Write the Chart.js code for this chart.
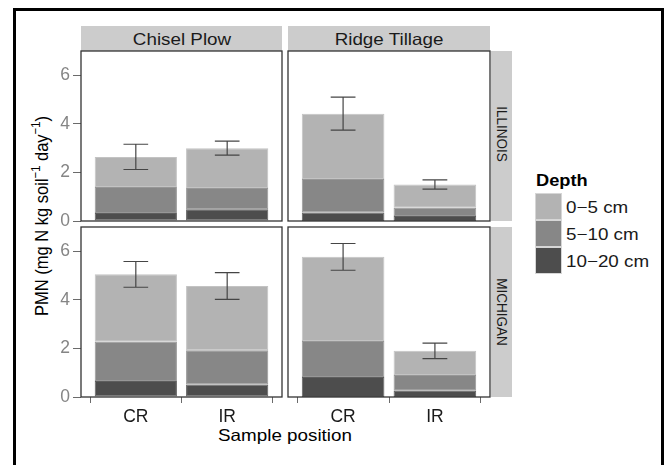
<!DOCTYPE html>
<html>
<head>
<meta charset="utf-8">
<script src="https://cdn.jsdelivr.net/npm/chart.js@4.4.0/dist/chart.umd.min.js"></script>
<style>
  body { margin: 0; background: #fff; font-family: 'Liberation Sans', Arial, sans-serif; }
  #wrap { position: relative; width: 670px; height: 465px; overflow: hidden; }
  .frame { position: absolute; left: 13px; top: 8px; width: 645px; height: 470px; border: 3px solid #000; border-bottom: none; }
  .strip { position: absolute; background: #cccccc; }
  .txt { position: absolute; transform: translate(-50%, -50%) scaleX(1.14); white-space: nowrap; font-size: 16.5px; line-height: 1; color: #1a1a1a; }
  .rot { position: absolute; transform: translate(-50%, -50%) rotate(90deg) scaleY(1.14); white-space: nowrap; font-size: 13.5px; line-height: 1; color: #1a1a1a; }
  .ytitle { position: absolute; transform: translate(-50%, -50%) rotate(-90deg) scaleY(1.14); white-space: nowrap; font-size: 16.5px; line-height: 1; color: #000; }
  .ytitle sup { font-size: 0.68em; line-height: 0; }
  .left { position: absolute; transform: translateY(-50%) scaleX(1.14); transform-origin: left center; white-space: nowrap; font-size: 16.5px; line-height: 1; color: #1a1a1a; }
  .key { position: absolute; box-sizing: border-box; width: 27px; height: 27px; border: 1px solid #d6d6d6; }
</style>
</head>
<body>
<div id="wrap">
  <div class="frame"></div>
  <div class="strip" style="left:81px;top:26px;width:201px;height:25px"></div>
  <div class="strip" style="left:288px;top:26px;width:202px;height:25px"></div>
  <div class="strip" style="left:491px;top:51px;width:21px;height:170px"></div>
  <div class="strip" style="left:491px;top:227px;width:21px;height:170px"></div>
  <div class="txt" style="left:181.5px;top:38.5px">Chisel Plow</div>
  <div class="txt" style="left:389px;top:38.5px">Ridge Tillage</div>
  <div class="rot" style="left:502px;top:134px">ILLINOIS</div>
  <div class="rot" style="left:502px;top:312px">MICHIGAN</div>
  <div class="ytitle" style="left:41px;top:216px">PMN (mg N kg soil<sup>−1</sup> day<sup>−1</sup>)</div>
  <div class="txt" style="left:285px;top:435px;color:#000">Sample position</div>
  <div class="left" style="left:536px;top:181px;font-weight:bold;font-size:16px;color:#000">Depth</div>
  <div id="legend"></div>
</div>
<script>
// sample positions on the x axis
const positions = ['CR', 'IR'];
const xSlots = [1, 2];
const yTicks = [0, 2, 4, 6];
// stacked bottom to top
const depths = ['10−20 cm', '5−10 cm', '0−5 cm'];
const fills = ['#4d4d4d', '#878787', '#b3b3b3'];
const seams = ['#5e5e5e', '#979797', '#c3c3c3'];

// Illinois, chisel plow
const ilChisel10to20 = [0.33, 0.48];
const ilChisel5to10 = [1.07, 0.88];
const ilChisel0to5 = [1.24, 1.64];
const ilChiselErr = [0.52, 0.29];

// Illinois, ridge tillage
const ilRidge10to20 = [0.35, 0.21];
const ilRidge5to10 = [1.38, 0.34];
const ilRidge0to5 = [2.69, 0.95];
const ilRidgeErr = [0.68, 0.19];

// Michigan, chisel plow
const miChisel10to20 = [0.66, 0.51];
const miChisel5to10 = [1.62, 1.41];
const miChisel0to5 = [2.77, 2.65];
const miChiselErr = [0.53, 0.55];

// Michigan, ridge tillage
const miRidge10to20 = [0.82, 0.26];
const miRidge5to10 = [1.49, 0.65];
const miRidge0to5 = [3.46, 0.99];
const miRidgeErr = [0.55, 0.32];

Chart.defaults.font.family = "'Liberation Sans', Arial, sans-serif";

function errorBars(totals, err) {
  return {
    id: 'errorBars',
    afterDatasetsDraw(chart) {
      const ctx = chart.ctx;
      const x = chart.scales.x, y = chart.scales.y;
      const bars = chart.getDatasetMeta(0).data;
      ctx.save();
      ctx.strokeStyle = '#454545';
      ctx.lineWidth = 1.2;
      totals.forEach((t, i) => {
        const cx = x.getPixelForValue(xSlots[i]);
        const half = bars[i].width * 0.15;
        const hi = y.getPixelForValue(t + err[i]);
        const lo = y.getPixelForValue(t - err[i]);
        ctx.beginPath();
        ctx.moveTo(cx - half, hi); ctx.lineTo(cx + half, hi);
        ctx.moveTo(cx, hi); ctx.lineTo(cx, lo);
        ctx.moveTo(cx - half, lo); ctx.lineTo(cx + half, lo);
        ctx.stroke();
      });
      ctx.restore();
    }
  };
}

const panelBox = {
  id: 'panelBox',
  afterDraw(chart) {
    const {ctx, chartArea: a} = chart;
    ctx.save();
    ctx.strokeStyle = '#333333';
    ctx.lineWidth = 1.3;
    ctx.strokeRect(a.left, a.top, a.right - a.left, a.bottom - a.top);
    ctx.restore();
  }
};

function panel(box, layers, err, showX, showY) {
  const PAD = 14, YW = 40, XH = 32;
  const padL = showY ? 0 : PAD;
  const axisW = showY ? YW : 0;
  const padB = showX ? 0 : PAD;
  const axisH = showX ? XH : 0;
  const w = padL + axisW + box.w + PAD;
  const h = PAD + box.h + axisH + padB;
  const cv = document.createElement('canvas');
  cv.width = w; cv.height = h;
  cv.style.cssText = 'position:absolute;left:' + (box.x - padL - axisW) + 'px;top:' + (box.y - PAD) + 'px;width:' + w + 'px;height:' + h + 'px';
  document.getElementById('wrap').appendChild(cv);

  const totals = layers[0].map((_, i) => layers.reduce((s, l) => s + l[i], 0));

  new Chart(cv, {
    type: 'bar',
    data: {
      datasets: layers.map((vals, k) => ({
        label: depths[k],
        data: vals.map((v, i) => ({x: xSlots[i], y: v})),
        backgroundColor: fills[k],
        borderColor: seams[k],
        borderWidth: 1,
        borderSkipped: false,
        stack: 'depth',
        barPercentage: 0.9,
        categoryPercentage: 1
      }))
    },
    options: {
      responsive: false,
      animation: false,
      layout: {padding: {left: padL, right: PAD, top: PAD, bottom: padB}},
      plugins: {legend: {display: false}, tooltip: {enabled: false}},
      scales: {
        x: {
          type: 'linear', min: 0.4, max: 2.6, offset: false, display: showX,
          afterBuildTicks: s => { s.ticks = xSlots.map(v => ({value: v})); },
          afterFit: s => { if (showX) s.height = XH; },
          ticks: {callback: (v, i) => positions[i], color: '#1a1a1a', font: {size: 17.5}, padding: 4},
          grid: {drawOnChartArea: false, tickLength: 6, color: '#6b6b6b'},
          border: {display: false}
        },
        y: {
          min: 0, max: 7, stacked: true, display: showY,
          afterBuildTicks: s => { s.ticks = yTicks.map(v => ({value: v})); },
          afterFit: s => { if (showY) s.width = YW; },
          ticks: {color: '#858585', font: {size: 17.5}, padding: 3},
          grid: {drawOnChartArea: false, tickLength: 8, color: '#6b6b6b'},
          border: {display: false}
        }
      }
    },
    plugins: [errorBars(totals, err), panelBox]
  });
}

panel({x: 81, y: 51, w: 201, h: 170}, [ilChisel10to20, ilChisel5to10, ilChisel0to5], ilChiselErr, false, true);
panel({x: 288, y: 51, w: 202, h: 170}, [ilRidge10to20, ilRidge5to10, ilRidge0to5], ilRidgeErr, false, false);
panel({x: 81, y: 227, w: 201, h: 170}, [miChisel10to20, miChisel5to10, miChisel0to5], miChiselErr, true, true);
panel({x: 288, y: 227, w: 202, h: 170}, [miRidge10to20, miRidge5to10, miRidge0to5], miRidgeErr, true, false);

// legend, light layer on top
const legend = document.getElementById('legend');
[2, 1, 0].forEach((k, row) => {
  const top = 193 + row * 27;
  const key = document.createElement('div');
  key.className = 'key';
  key.style.cssText = 'left:535px;top:' + top + 'px;background:' + fills[k];
  legend.appendChild(key);
  const lab = document.createElement('div');
  lab.className = 'left';
  lab.style.cssText = 'left:566px;top:' + (top + 13.5) + 'px';
  lab.textContent = depths[k];
  legend.appendChild(lab);
});
</script>
</body>
</html>
